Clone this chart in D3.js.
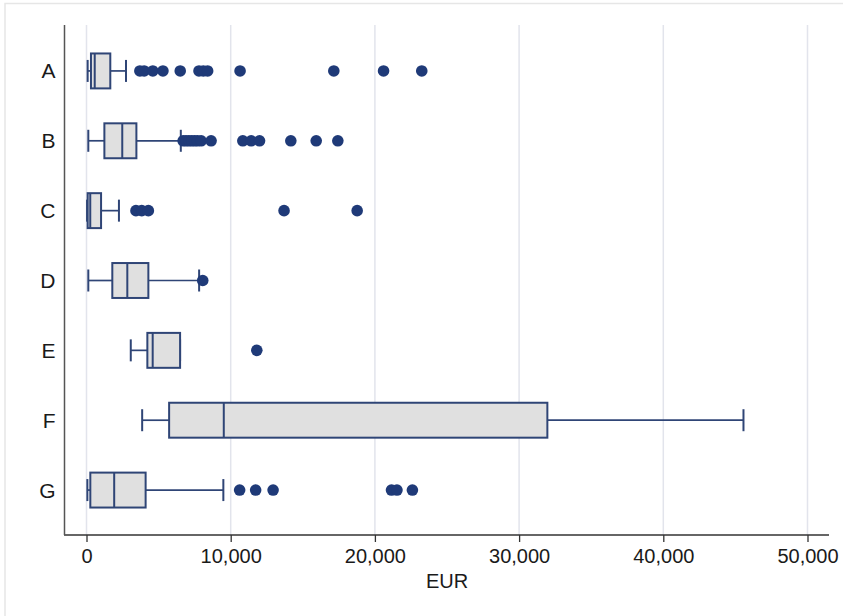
<!DOCTYPE html>
<html>
<head>
<meta charset="utf-8">
<script src="https://d3js.org/d3.v7.min.js"></script>
<style>
	body { margin: 0; background: #fff; }
	text { font-family: "Liberation Sans", Arial, sans-serif; fill: #1a1a1a; }
</style>
</head>
<body>
<script>
	const categories = ['A', 'B', 'C', 'D', 'E', 'F', 'G']
	const whiskerLo = [80, 125, 40, 125, 3070, 3860, 60]
	const q1 = [310, 1240, 80, 1790, 4220, 5730, 265]
	const median = [570, 2480, 260, 2830, 4590, 9520, 1920]
	const q3 = [1650, 3460, 1010, 4290, 6490, 31960, 4100]
	const whiskerHi = [2740, 6540, 2250, 7810, 6490, 45560, 9490]
	const outliers = [
		[3700, 4000, 4600, 5300, 6500, 7800, 8100, 8400, 10650, 17150, 20600, 23250],
		[6700, 6900, 7100, 7300, 7500, 7700, 7950, 8640, 10840, 11420, 12000, 14170, 15930, 17430],
		[3430, 3830, 4290, 13700, 18770],
		[8060],
		[11810],
		[],
		[10620, 11730, 12940, 21150, 21530, 22600]
	]
	const xTicks = [0, 10000, 20000, 30000, 40000, 50000]

	const W = 843, H = 616
	const svg = d3.select('body').append('svg')
		.attr('width', W).attr('height', H)

	// faint outer frame of the graph region
	svg.append('path')
		.attr('d', 'M5,616 V3.5 H843')
		.attr('fill', 'none')
		.attr('stroke', '#e6e6e6')
		.attr('stroke-width', 1.5)

	const x = d3.scaleLinear().domain([0, 50000]).range([86.5, 807.5])
	const y = d3.scaleBand().domain(categories).range([36, 525])
		.paddingInner(0.5).paddingOuter(0.25)

	const plotTop = 25, plotBottom = 535, plotLeft = 64.5, plotRight = 829

	// gridlines
	svg.append('g').selectAll('line')
		.data(xTicks)
		.enter().append('line')
		.attr('x1', d => x(d)).attr('x2', d => x(d))
		.attr('y1', plotTop).attr('y2', plotBottom)
		.attr('stroke', '#e2e4ec')
		.attr('stroke-width', 1.5)

	// x axis
	const xAxis = svg.append('g')
		.attr('transform', 'translate(0,' + plotBottom + ')')
		.call(d3.axisBottom(x).tickValues(xTicks).tickFormat(d3.format(',')).tickSize(7).tickPadding(7))
	xAxis.select('.domain').remove()
	xAxis.selectAll('.tick line').attr('stroke', '#333').attr('stroke-width', 1.3)
	xAxis.selectAll('.tick text').style('font-size', '20px')
		.style('font-family', '"Liberation Sans", Arial, sans-serif').attr('fill', '#1a1a1a')

	svg.append('line')
		.attr('x1', plotLeft - 0.5).attr('x2', plotRight)
		.attr('y1', plotBottom).attr('y2', plotBottom)
		.attr('stroke', '#333').attr('stroke-width', 1.5)
	svg.append('line')
		.attr('x1', plotLeft).attr('x2', plotLeft)
		.attr('y1', plotTop).attr('y2', plotBottom)
		.attr('stroke', '#555').attr('stroke-width', 1.5)

	svg.append('text')
		.attr('x', (x(0) + x(50000)) / 2).attr('y', 588)
		.attr('text-anchor', 'middle')
		.style('font-size', '20px')
		.text('EUR')

	// y labels
	svg.append('g').selectAll('text')
		.data(categories)
		.enter().append('text')
		.attr('x', 55.5)
		.attr('y', d => y(d) + y.bandwidth() / 2)
		.attr('dy', '0.36em')
		.attr('text-anchor', 'end')
		.style('font-size', '21px')
		.text(d => d)

	const stroke = '#2f4576'
	const dotColor = '#1f3a78'
	const bh = y.bandwidth()
	const cap = 22

	const boxes = svg.append('g').selectAll('g')
		.data(categories)
		.enter().append('g')
		.attr('transform', d => 'translate(0,' + (y(d) + bh / 2) + ')')

	// whiskers
	boxes.append('line')
		.attr('x1', (d, i) => x(whiskerLo[i])).attr('x2', (d, i) => x(q1[i]))
		.attr('stroke', stroke).attr('stroke-width', 1.7)
	boxes.append('line')
		.attr('x1', (d, i) => x(q3[i])).attr('x2', (d, i) => x(whiskerHi[i]))
		.attr('stroke', stroke).attr('stroke-width', 1.7)
	boxes.append('line')
		.attr('x1', (d, i) => x(whiskerLo[i])).attr('x2', (d, i) => x(whiskerLo[i]))
		.attr('y1', -cap / 2).attr('y2', cap / 2)
		.attr('stroke', stroke).attr('stroke-width', 2)
	boxes.append('line')
		.attr('x1', (d, i) => x(whiskerHi[i])).attr('x2', (d, i) => x(whiskerHi[i]))
		.attr('y1', -cap / 2).attr('y2', cap / 2)
		.attr('stroke', stroke).attr('stroke-width', 2)

	// box
	boxes.append('rect')
		.attr('x', (d, i) => x(q1[i]))
		.attr('width', (d, i) => x(q3[i]) - x(q1[i]))
		.attr('y', -bh / 2).attr('height', bh)
		.attr('fill', '#e0e0e0')
		.attr('stroke', stroke).attr('stroke-width', 2)
	boxes.append('line')
		.attr('x1', (d, i) => x(median[i])).attr('x2', (d, i) => x(median[i]))
		.attr('y1', -bh / 2).attr('y2', bh / 2)
		.attr('stroke', stroke).attr('stroke-width', 2)

	// outliers
	boxes.selectAll('circle')
		.data((d, i) => outliers[i])
		.enter().append('circle')
		.attr('cx', d => x(d))
		.attr('cy', 0)
		.attr('r', 5.8)
		.attr('fill', dotColor)
</script>
</body>
</html>
